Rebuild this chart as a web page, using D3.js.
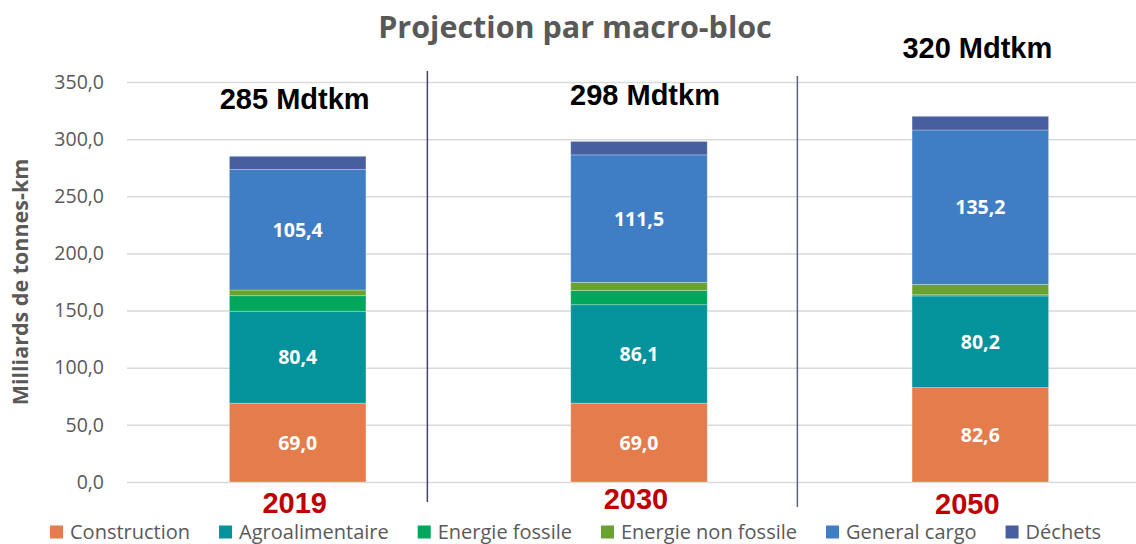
<!DOCTYPE html>
<html>
<head>
<meta charset="utf-8">
<script src="https://cdn.jsdelivr.net/npm/d3@7"></script>
<style>
  html, body { margin: 0; padding: 0; background: #fff; }
  svg { display: block; }
</style>
</head>
<body>
<div id="chart"></div>
<script>
// data
const years = ['2019', '2030', '2050'];
const totals = [285, 298, 320];
const seriesNames = ['Construction', 'Agroalimentaire', 'Energie fossile', 'Energie non fossile', 'General cargo', 'Déchets'];
const construction = [69.0, 69.0, 82.6];
const agroalimentaire = [80.4, 86.1, 80.2];
const energieFossile = [13.6, 12.6, 1.0];
const energieNonFossile = [5.0, 7.0, 9.0];
const generalCargo = [105.4, 111.5, 135.2];
const dechets = [11.6, 11.8, 12.0];
const yTicks = [0, 50, 100, 150, 200, 250, 300, 350];
const labelledSeries = ['Construction', 'Agroalimentaire', 'General cargo'];

const colors = ['#e57c4b', '#04929b', '#00a65b', '#6aa231', '#3f7dc4', '#485f9f'];

const width = 1136, height = 544;
const margin = { top: 82, left: 127, bottom: 62 };

const rows = years.map((y, i) => ({
  year: y,
  'Construction': construction[i],
  'Agroalimentaire': agroalimentaire[i],
  'Energie fossile': energieFossile[i],
  'Energie non fossile': energieNonFossile[i],
  'General cargo': generalCargo[i],
  'Déchets': dechets[i],
}));

const svg = d3.select('#chart').append('svg')
  .attr('width', width)
  .attr('height', height);

const x = d3.scaleBand()
  .domain(years)
  .range([margin.left, margin.left + 1024])
  .paddingInner(0.6)
  .paddingOuter(0.3);

const y = d3.scaleLinear()
  .domain([0, 350])
  .range([height - margin.bottom, margin.top]);

const color = d3.scaleOrdinal().domain(seriesNames).range(colors);
const fmt = v => d3.format('.1f')(v).replace('.', ',');

// grid lines + tick labels
const yAxis = svg.append('g')
  .attr('transform', `translate(${margin.left},0)`)
  .call(d3.axisLeft(y).tickValues(yTicks).tickSize(-(width - margin.left)).tickFormat(fmt).tickPadding(23))
  .call(g => g.select('.domain').remove());
yAxis.selectAll('.tick line').attr('stroke', '#d9d9d9').attr('stroke-width', 1.5);
yAxis.selectAll('.tick text')
  .attr('fill', '#595959')
  .style('font-family', '"Open Sans", sans-serif')
  .style('font-size', '19.5px');

// axis title
svg.append('text')
  .attr('transform', `translate(28,${(margin.top + height - margin.bottom) / 2}) rotate(-90)`)
  .attr('text-anchor', 'middle')
  .attr('fill', '#595959')
  .style('font-family', '"Open Sans", sans-serif')
  .style('font-weight', 700)
  .style('font-size', '21.5px')
  .text('Milliards de tonnes-km');

// separators between blocs
const sepFrac = [0.3, 0.44];
const sepY = [[71, 502], [76, 507]];
years.slice(0, 2).forEach((yr, i) => {
  const gap = x.step() - x.bandwidth();
  const sx = x(yr) + x.bandwidth() + gap * sepFrac[i];
  svg.append('line')
    .attr('x1', sx).attr('x2', sx)
    .attr('y1', sepY[i][0]).attr('y2', sepY[i][1])
    .attr('stroke', i === 0 ? '#3a4868' : '#5b6279')
    .attr('stroke-width', 1.5);
});

// stacked bars
const stack = d3.stack().keys(seriesNames)(rows);
const layers = svg.append('g').selectAll('g')
  .data(stack)
  .join('g')
  .attr('fill', d => color(d.key));

layers.selectAll('rect')
  .data(d => d)
  .join('rect')
  .attr('x', d => x(d.data.year))
  .attr('y', d => y(d[1]))
  .attr('width', x.bandwidth())
  .attr('height', d => y(d[0]) - y(d[1]))
  .attr('stroke', '#ffffff')
  .attr('stroke-opacity', 0.35)
  .attr('stroke-width', 0.8);

// value labels inside bars
stack.filter(s => labelledSeries.includes(s.key)).forEach(s => {
  svg.append('g').selectAll('text')
    .data(s)
    .join('text')
    .attr('x', d => x(d.data.year) + x.bandwidth() / 2)
    .attr('y', d => (y(d[0]) + y(d[1])) / 2)
    .attr('dy', '0.36em')
    .attr('text-anchor', 'middle')
    .attr('fill', '#ffffff')
    .style('font-family', '"Open Sans", sans-serif')
    .style('font-weight', 700)
    .style('font-size', '19.5px')
    .text(d => fmt(d.data[s.key]));
});

// totals above bars
const totalDx = [-3, 6, -3];
const totalAbove = [47, 36, 58];
svg.append('g').selectAll('text')
  .data(totals)
  .join('text')
  .attr('x', (d, i) => x(years[i]) + x.bandwidth() / 2 + totalDx[i])
  .attr('y', (d, i) => y(d) - totalAbove[i])
  .attr('text-anchor', 'middle')
  .attr('fill', '#000000')
  .style('font-family', '"Liberation Sans", Arial, sans-serif')
  .style('font-weight', 700)
  .style('font-size', '29px')
  .text(d => `${d} Mdtkm`);

// year labels
const yearDx = [-3, -3, -13];
const yearDy = [31, 27, 32];
svg.append('g').selectAll('text')
  .data(years)
  .join('text')
  .attr('x', (d, i) => x(d) + x.bandwidth() / 2 + yearDx[i])
  .attr('y', (d, i) => y(0) + yearDy[i])
  .attr('text-anchor', 'middle')
  .attr('fill', '#c00000')
  .style('font-family', '"Liberation Sans", Arial, sans-serif')
  .style('font-weight', 700)
  .style('font-size', '29px')
  .text(d => d);

// title
svg.append('text')
  .attr('x', 575)
  .attr('y', 38)
  .attr('text-anchor', 'middle')
  .attr('fill', '#595959')
  .style('font-family', '"Open Sans", sans-serif')
  .style('font-weight', 700)
  .style('font-size', '30.5px')
  .text('Projection par macro-bloc');

// legend
const legend = svg.append('g').attr('transform', 'translate(0,532)');
let lx = 50;
seriesNames.forEach(name => {
  const item = legend.append('g').attr('transform', `translate(${lx},0)`);
  item.append('rect')
    .attr('x', 0).attr('y', -6.5)
    .attr('width', 13).attr('height', 13)
    .attr('fill', color(name));
  const t = item.append('text')
    .attr('x', 20)
    .attr('dy', '0.35em')
    .attr('fill', '#595959')
    .style('font-family', '"Open Sans", sans-serif')
    .style('font-size', '20px')
    .text(name);
  lx += 20 + t.node().getComputedTextLength() + 29;
});
</script>
</body>
</html>
